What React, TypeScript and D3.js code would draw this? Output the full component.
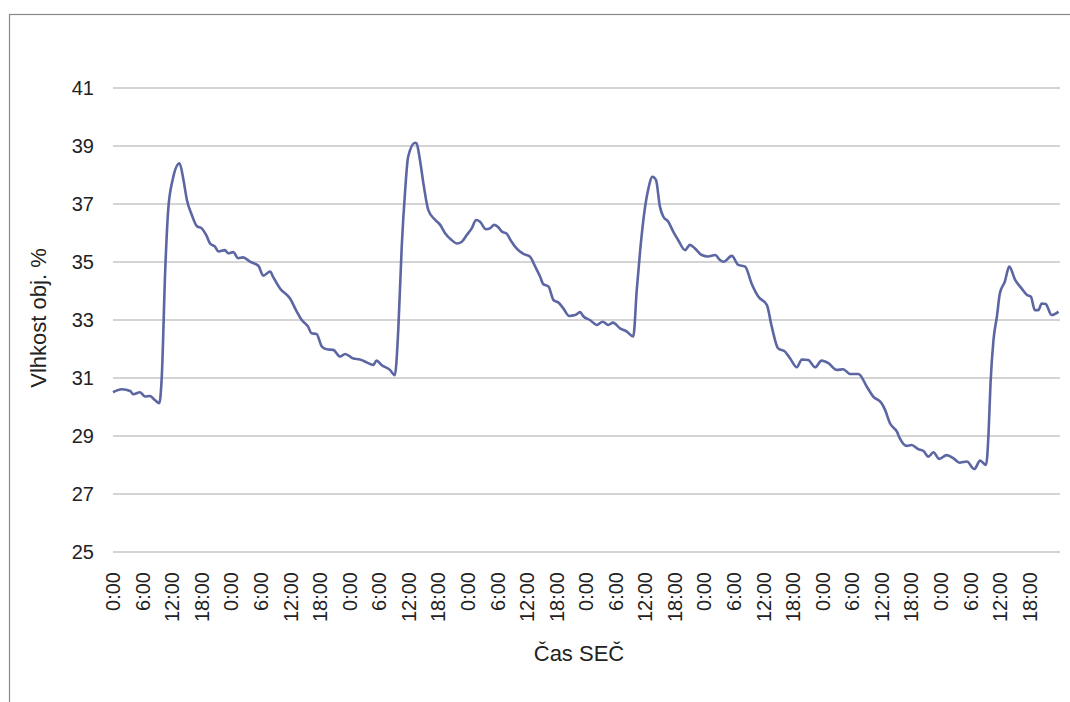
import React from "react";
import * as d3 from "d3";

// time since start of record [h] and volumetric moisture [%]
const hours = [
  0, 1.8, 3.5, 4.1, 5.5, 6.5, 7.5, 8.5, 9.4, 9.9, 10.6, 11.2, 12.1, 13.5, 14.3, 15.0, 16.0, 17.0, 18.0, 19.0,
  19.7, 20.7, 21.4, 22.7, 23.4, 24.4, 25.4, 26.4, 27.8, 29.5, 30.5, 31.9, 32.5, 33.9, 35.9, 37.3, 38.3, 39.6,
  40.3, 41.3, 42.4, 43.4, 44.7, 46.1, 47.1, 48.8, 50.1, 51.5, 52.8, 53.5, 54.5, 56.2, 57.2, 57.9, 58.6, 59.3,
  59.9, 61.3, 61.6, 62.3, 63.0, 64.0, 65.4, 66.4, 67.4, 68.7, 69.8, 70.8, 71.8, 72.8, 73.7, 74.5, 75.7, 76.5,
  77.4, 78.2, 78.9, 79.8, 80.9, 81.9, 83.3, 84.6, 85.7, 86.7, 87.3, 88.4, 89.4, 90.4, 91.4, 92.6, 93.8, 94.8,
  95.5, 96.8, 98.2, 99.4, 100.5, 101.5, 102.9, 104.3, 105.6, 106.3, 107.0, 108.0, 108.6, 109.5, 110.2, 111.0,
  111.7, 112.7, 113.7, 114.7, 116.1, 117.1, 118.1, 119.5, 120.8, 122.2, 123.2, 123.9, 125.6, 126.9, 128.3,
  129.6, 131.0, 132.7, 133.7, 135.0, 136.4, 137.4, 138.8, 139.8, 141.1, 142.5, 143.8, 145.2, 146.9, 148.2,
  149.6, 151.3, 153.0, 154.3, 156.0, 156.7, 157.7, 159.1, 159.7, 161.1, 162.1, 163.4, 164.5, 165.5, 166.5,
  167.7, 169.2, 170.6, 171.8, 173.3, 174.8, 176.0, 177.2, 177.7, 178.1, 178.7, 179.4, 180.0, 181.0, 181.9,
  183.1, 184.4, 185.5, 186.3, 187.1, 187.8, 188.5, 189.3, 190.5, 191.9,
];
const vlhkost = [
  30.51, 30.61, 30.55, 30.44, 30.51, 30.36, 30.38, 30.24, 30.13, 31.05, 34.72, 36.79, 37.83, 38.4, 37.83, 37.14,
  36.62, 36.24, 36.16, 35.9, 35.64, 35.53, 35.36, 35.41, 35.3, 35.34, 35.13, 35.16, 35.01, 34.87, 34.53, 34.67,
  34.49, 34.09, 33.75, 33.29, 33.0, 32.77, 32.54, 32.52, 32.08, 31.99, 31.97, 31.74, 31.83, 31.67, 31.64, 31.54,
  31.45, 31.6, 31.45, 31.28, 31.1, 32.66, 35.53, 37.48, 38.63, 39.11, 39.09, 38.52, 37.71, 36.79, 36.45, 36.28,
  35.99, 35.76, 35.64, 35.7, 35.93, 36.16, 36.45, 36.39, 36.13, 36.16, 36.28, 36.2, 36.05, 35.99, 35.7, 35.47,
  35.28, 35.19, 34.84, 34.49, 34.24, 34.15, 33.69, 33.6, 33.4, 33.14, 33.17, 33.27, 33.12, 33.0, 32.83, 32.94,
  32.83, 32.91, 32.71, 32.6, 32.43, 34.03, 35.41, 36.91, 37.48, 37.94, 37.83, 36.91, 36.56, 36.39, 36.05, 35.76,
  35.41, 35.59, 35.47, 35.24, 35.19, 35.24, 35.07, 35.01, 35.21, 34.9, 34.84, 34.26, 33.8, 33.52, 32.77, 32.02,
  31.91, 31.68, 31.37, 31.64, 31.62, 31.37, 31.6, 31.51, 31.28, 31.3, 31.14, 31.14, 30.7, 30.36, 30.13, 29.9,
  29.44, 29.15, 28.92, 28.66, 28.69, 28.55, 28.48, 28.29, 28.44, 28.21, 28.34, 28.23, 28.08, 28.12, 27.86, 28.15,
  28.0, 29.09, 30.81, 32.31, 33.12, 33.92, 34.32, 34.84, 34.38, 34.09, 33.86, 33.8, 33.34, 33.34, 33.57, 33.55,
  33.17, 33.29,
];
const yTicks = [25, 27, 29, 31, 33, 35, 37, 39, 41];
const timeLabels = ["0:00", "6:00", "12:00", "18:00"];
const days = 8;

const width = 1070;
const height = 702;
const margin = { top: 88, right: 10, bottom: 150, left: 113 };
const font = "'Liberation Sans', Arial, sans-serif";

export default function App() {
  const x = d3.scaleLinear().domain([0, days * 24]).range([margin.left, 1059]);
  const y = d3.scaleLinear().domain([25, 41]).range([height - margin.bottom, margin.top]);

  const data = hours.map((h, i) => [h, vlhkost[i]] as [number, number]);
  const line = d3
    .line<[number, number]>()
    .x((d) => x(d[0]))
    .y((d) => y(d[1]))
    .curve(d3.curveMonotoneX);

  const tickHours = d3.range(0, days * 24, 6);

  return (
    <svg
      width={width}
      height={height}
      style={{ position: "absolute", left: 0, top: 0, background: "#fff" }}
      fontFamily={font}
    >
      {/* chart frame, right and bottom edges run off the page */}
      <rect x={9.5} y={14.5} width={width} height={height} fill="none" stroke="#8a8a8a" strokeWidth={1.2} />

      {/* grid */}
      {yTicks.map((t) => (
        <line key={t} x1={margin.left} x2={1060} y1={y(t)} y2={y(t)} stroke="#a9a9a9" strokeWidth={1.2} />
      ))}

      {/* y tick labels */}
      {yTicks.map((t) => (
        <text key={t} x={94} y={y(t)} dy="0.36em" textAnchor="end" fontSize={20} fill="#222">
          {t}
        </text>
      ))}

      {/* x tick labels */}
      {tickHours.map((h, i) => (
        <text
          key={i}
          transform={`translate(${x(h)},572) rotate(-90)`}
          textAnchor="end"
          dy="0.36em"
          fontSize={20}
          fill="#222"
        >
          {timeLabels[i % 4]}
        </text>
      ))}

      {/* data line */}
      <path d={line(data) || ""} fill="none" stroke="#5b66a2" strokeWidth={2.6} strokeLinejoin="round" />

      {/* axis titles */}
      <text x={579} y={661} textAnchor="middle" fontSize={22} fill="#222">
        Čas SEČ
      </text>
      <text transform="translate(46,318) rotate(-90)" textAnchor="middle" fontSize={22} fill="#222">
        Vlhkost obj. %
      </text>
    </svg>
  );
}
